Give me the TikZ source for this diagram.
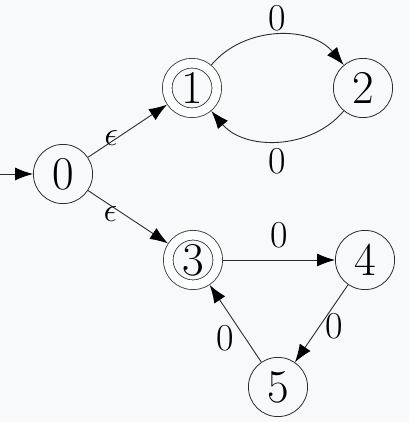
\documentclass[tikz,border=0pt]{standalone}
\usepackage{amsmath}
\usepackage{tikz}
\usetikzlibrary{arrows.meta, positioning, automata}
\definecolor{bgcol}{RGB}{248,249,250}
\definecolor{edgecol}{RGB}{40,46,48}
\tikzset{
  st/.style={state, draw=edgecol, minimum size=29.6pt, inner sep=0pt,
             font=\fontsize{23.5}{28}\selectfont},
  fin/.style={st, double, double distance=4.4pt, minimum size=24.8pt,
              outer sep=2.6pt},
  arr/.style={-{Latex[length=9pt,width=6.5pt,black]}, draw=edgecol, line width=0.45pt},
  lbl/.style={inner sep=0pt, font=\fontsize{19}{23}\selectfont},
}

\begin{document}
\begin{tikzpicture}[x=0.5pt, y=0.5pt]
  \useasboundingbox[fill=bgcol] (0,0) rectangle (409,422);
  \node[st]  (q0) at (63,248)  {0};
  \node[fin] (q1) at (192,334) {1};
  \node[st]  (q2) at (363,334) {2};
  \node[fin] (q3) at (193,162) {3};
  \node[st]  (q4) at (365,162) {4};
  \node[st]  (q5) at (278,35)  {5};
  \coordinate (start) at (0,248);
  \draw[arr] (start) -- (q0);
  \draw[arr] (q0) -- node[lbl, pos=0.34, shift={(-1.8pt,0.8pt)}] {$\epsilon$} (q1);
  \draw[arr] (q0) -- node[lbl, pos=0.34, shift={(-2.4pt,-3pt)}] {$\epsilon$} (q3);
  \draw[arr] (q1) to[bend left=50] node[lbl, above=1.75pt] {0} (q2);
  \draw[arr] (q2) to[bend left=50] node[lbl, below=3.75pt] {0} (q1);
  \draw[arr] (q3) -- node[lbl, above=5.75pt] {0} (q4);
  \draw[arr] (q4) -- node[lbl, right=2pt, yshift=-1.25pt] {0} (q5);
  \draw[arr] (q5) -- node[lbl, below left=1pt] {0} (q3);
\end{tikzpicture}
\end{document}
